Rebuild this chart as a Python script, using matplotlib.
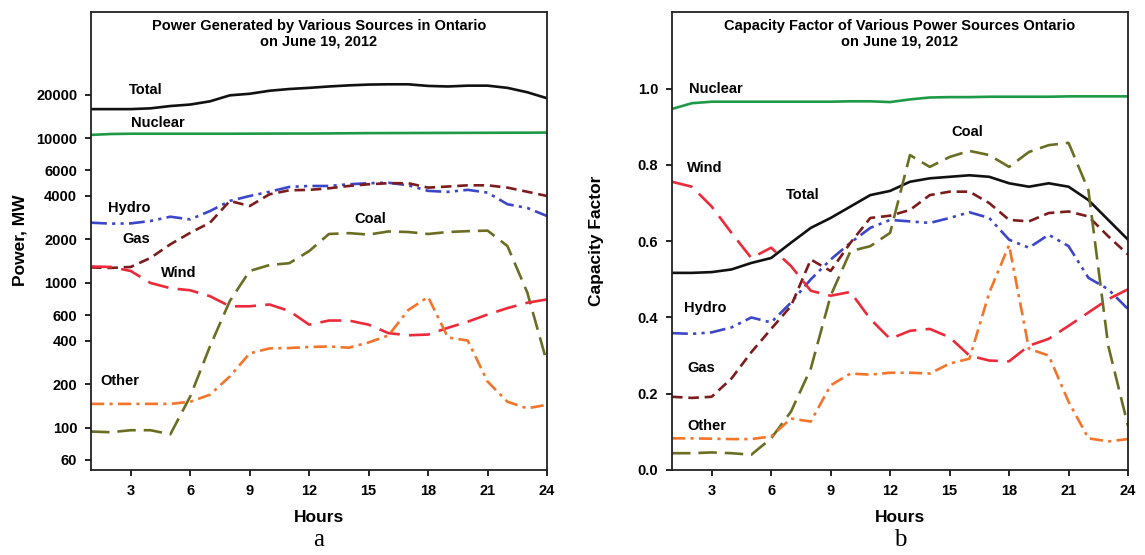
import matplotlib
matplotlib.use("Agg")
import matplotlib.pyplot as plt
import matplotlib.ticker as mticker

plt.rcParams["font.family"] = "Liberation Sans"
plt.rcParams["font.weight"] = "bold"
plt.rcParams["font.size"] = 10.5

hours = list(range(1, 25))

# panel a: power in MW
total_mw = [15900, 15900, 15900, 16100, 16700, 17100, 18000, 19800, 20300, 21300, 21900, 22300,
            22800, 23200, 23500, 23600, 23600, 23000, 22800, 23100, 23100, 22300, 20800, 18900]
nuclear_mw = [10550, 10700, 10750, 10750, 10750, 10750, 10750, 10750, 10760, 10770, 10780, 10780,
              10800, 10830, 10850, 10860, 10870, 10880, 10890, 10900, 10910, 10920, 10930, 10950]
hydro_mw = [2610, 2570, 2580, 2680, 2870, 2750, 3140, 3690, 3990, 4270, 4610, 4680,
            4680, 4810, 4890, 4930, 4730, 4330, 4260, 4400, 4210, 3500, 3300, 2900]
gas_mw = [1280, 1270, 1290, 1490, 1850, 2220, 2610, 3690, 3400, 4100, 4370, 4400,
          4510, 4680, 4810, 4890, 4890, 4560, 4640, 4730, 4730, 4560, 4270, 3990]
coal_mw = [94, 93, 96, 96, 90, 164, 365, 750, 1210, 1330, 1370, 1660,
           2180, 2210, 2160, 2270, 2250, 2180, 2250, 2280, 2300, 1800, 860, 280]
wind_mw = [1300, 1290, 1210, 1000, 920, 890, 810, 690, 690, 710, 640, 515,
           550, 550, 515, 450, 435, 440, 490, 540, 605, 670, 730, 770]
other_mw = [146, 146, 146, 146, 146, 151, 169, 226, 326, 353, 355, 361,
            364, 357, 388, 434, 650, 800, 420, 400, 208, 151, 136, 144]

# panel b: capacity factor
total_cf = [0.517, 0.517, 0.519, 0.526, 0.543, 0.556, 0.596, 0.635, 0.661, 0.691, 0.721, 0.732,
            0.756, 0.765, 0.769, 0.773, 0.769, 0.752, 0.743, 0.752, 0.743, 0.708, 0.656, 0.604]
nuclear_cf = [0.947, 0.962, 0.966, 0.966, 0.966, 0.966, 0.966, 0.966, 0.966, 0.967, 0.967, 0.965,
              0.972, 0.977, 0.978, 0.978, 0.979, 0.979, 0.979, 0.979, 0.980, 0.980, 0.980, 0.980]
hydro_cf = [0.359, 0.357, 0.361, 0.374, 0.400, 0.387, 0.439, 0.500, 0.552, 0.596, 0.635, 0.656,
            0.652, 0.648, 0.661, 0.676, 0.661, 0.604, 0.583, 0.617, 0.587, 0.504, 0.474, 0.422]
gas_cf = [0.192, 0.189, 0.192, 0.240, 0.309, 0.370, 0.430, 0.552, 0.522, 0.596, 0.661, 0.667,
          0.682, 0.721, 0.730, 0.730, 0.700, 0.656, 0.652, 0.674, 0.678, 0.665, 0.613, 0.565]
coal_cf = [0.044, 0.044, 0.046, 0.044, 0.040, 0.083, 0.153, 0.266, 0.457, 0.574, 0.587, 0.622,
           0.826, 0.795, 0.821, 0.837, 0.826, 0.795, 0.834, 0.852, 0.858, 0.734, 0.326, 0.115]
wind_cf = [0.756, 0.743, 0.691, 0.622, 0.556, 0.583, 0.535, 0.470, 0.457, 0.467, 0.396, 0.344,
           0.365, 0.370, 0.348, 0.300, 0.287, 0.285, 0.326, 0.344, 0.378, 0.413, 0.448, 0.474]
other_cf = [0.083, 0.083, 0.082, 0.081, 0.081, 0.088, 0.135, 0.127, 0.222, 0.253, 0.250, 0.255,
            0.255, 0.253, 0.279, 0.292, 0.465, 0.590, 0.318, 0.300, 0.179, 0.083, 0.075, 0.081]

xticks = [3, 6, 9, 12, 15, 18, 21, 24]
power_ticks = [60, 100, 200, 400, 600, 1000, 2000, 4000, 6000, 10000, 20000]
cf_ticks = [0.0, 0.2, 0.4, 0.6, 0.8, 1.0]

styles = {
    "Total": dict(color="#111111", ls="-"),
    "Nuclear": dict(color="#1e9a46", ls="-"),
    "Hydro": dict(color="#3c46c8", ls=(0, (6, 2, 1.2, 2, 1.2, 2))),
    "Gas": dict(color="#7d1c1c", ls=(0, (4, 2.2))),
    "Coal": dict(color="#6b6e22", ls=(0, (7, 3))),
    "Wind": dict(color="#ec2a3a", ls=(0, (8, 3.5))),
    "Other": dict(color="#f4742a", ls=(0, (5, 2, 1.2, 2))),
}

left_series = {"Total": total_mw, "Nuclear": nuclear_mw, "Hydro": hydro_mw, "Gas": gas_mw,
               "Coal": coal_mw, "Wind": wind_mw, "Other": other_mw}
right_series = {"Total": total_cf, "Nuclear": nuclear_cf, "Hydro": hydro_cf, "Gas": gas_cf,
                "Coal": coal_cf, "Wind": wind_cf, "Other": other_cf}

left_labels = {"Total": (3.78, 21600), "Nuclear": (4.38, 12700), "Hydro": (2.92, 3310),
               "Gas": (3.27, 2000), "Coal": (15.1, 2750), "Wind": (5.4, 1174), "Other": (2.46, 211)}
right_labels = {"Nuclear": (3.19, 1.0), "Coal": (15.9, 0.886), "Wind": (2.67, 0.791),
                "Total": (7.57, 0.721), "Hydro": (2.67, 0.424), "Gas": (2.5, 0.267), "Other": (2.75, 0.116)}

fig = plt.figure(figsize=(11.45, 5.55), dpi=100)
axa = fig.add_axes([0.0795, 0.1532, 0.3983, 0.8243])
axb = fig.add_axes([0.5869, 0.1532, 0.3983, 0.8243])

for ax, series, labels in [(axa, left_series, left_labels), (axb, right_series, right_labels)]:
    for name, vals in series.items():
        ax.plot(hours, vals, lw=1.9, **styles[name])
    for name, (x, y) in labels.items():
        ax.text(x, y, name, ha="center", va="center", fontsize=10.5, fontweight="bold")
    ax.set_xlim(1, 24)
    ax.set_xticks(xticks)
    ax.tick_params(direction="out", length=4, width=1.2, labelsize=10.5, pad=6)
    for sp in ax.spines.values():
        sp.set_linewidth(1.3)
        sp.set_color("#222222")

axa.set_yscale("log")
axa.set_ylim(51, 74000)
axa.yaxis.set_major_locator(mticker.FixedLocator(power_ticks))
axa.yaxis.set_minor_locator(mticker.NullLocator())
axa.yaxis.set_major_formatter(mticker.FixedFormatter([str(t) for t in power_ticks]))

axb.set_ylim(0, 1.2)
axb.set_yticks(cf_ticks)
axb.set_yticklabels(["%.1f" % t for t in cf_ticks])

axa.text(0.5, 0.985, "Power Generated by Various Sources in Ontario\non June 19, 2012",
         transform=axa.transAxes, ha="center", va="top", fontsize=10.5, fontweight="bold", linespacing=1.15)
axb.text(0.5, 0.985, "Capacity Factor of Various Power Sources Ontario\non June 19, 2012",
         transform=axb.transAxes, ha="center", va="top", fontsize=10.5, fontweight="bold", linespacing=1.15)

fig.text(0.0175, 0.567, "Power, MW", rotation=90, ha="center", va="center", fontsize=12.5, fontweight="bold")
fig.text(0.521, 0.567, "Capacity Factor", rotation=90, ha="center", va="center", fontsize=12.5, fontweight="bold")
fig.text(0.2787, 0.068, "Hours", ha="center", va="center", fontsize=12.5, fontweight="bold")
fig.text(0.7861, 0.068, "Hours", ha="center", va="center", fontsize=12.5, fontweight="bold")
fig.text(0.2787, 0.008, "a", ha="center", va="bottom", fontsize=18, family="Liberation Serif", fontweight="normal")
fig.text(0.7861, 0.008, "b", ha="center", va="bottom", fontsize=18, family="Liberation Serif", fontweight="normal")

fig.savefig("out.png", dpi=100)
